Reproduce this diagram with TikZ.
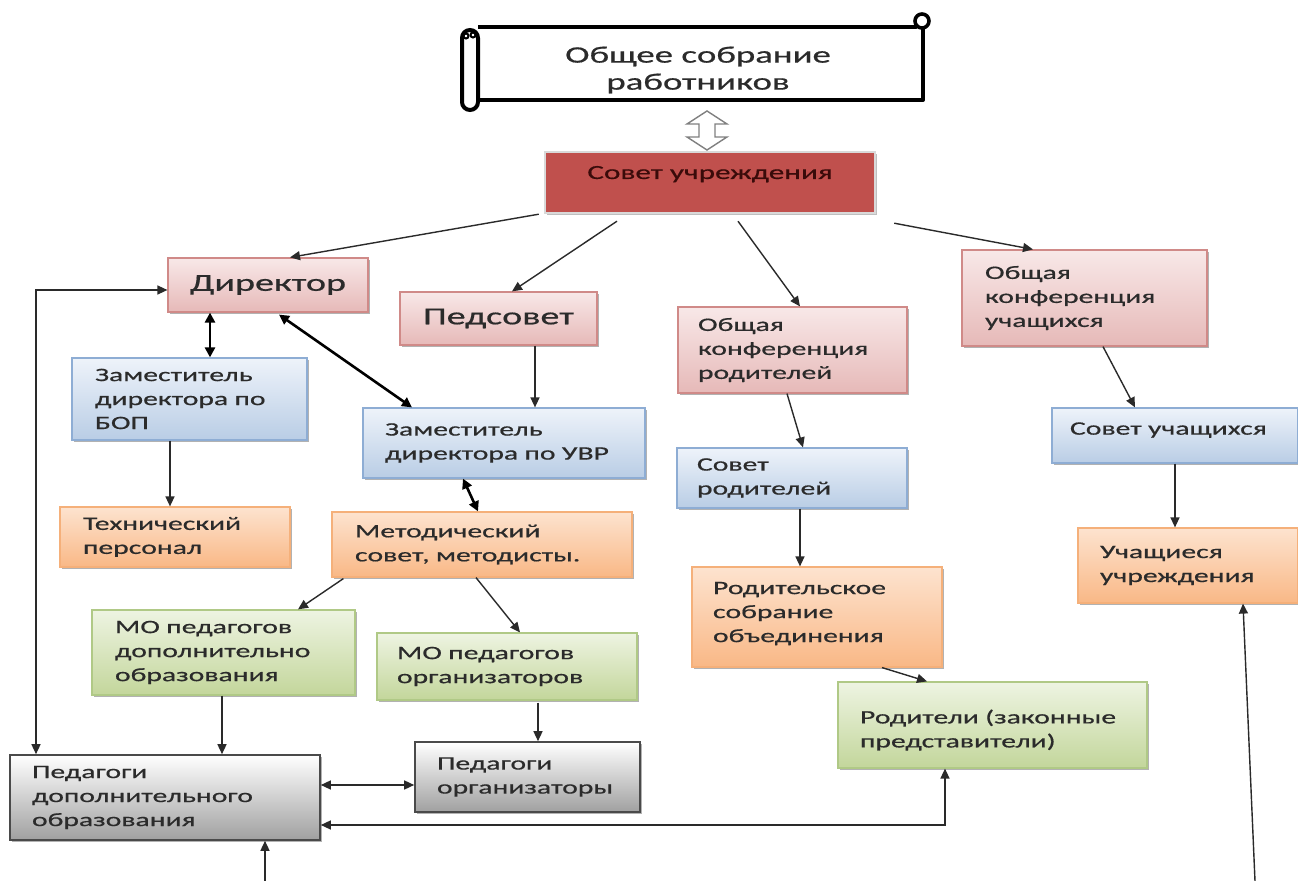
\documentclass[tikz,border=0pt]{standalone}
\usepackage{fontspec}
\setmainfont{Carlito}[FakeStretch=1.56,FakeBold=0.6]
\usetikzlibrary{arrows.meta,shadows,calc}
\definecolor{txt}{HTML}{2B2B2B}
\definecolor{lin}{HTML}{2A2A2A}
\definecolor{pinkt}{HTML}{F8E8E8}
\definecolor{pinkb}{HTML}{E6B9B8}
\definecolor{pinkd}{HTML}{D08A88}
\definecolor{bluet}{HTML}{EEF3FA}
\definecolor{blueb}{HTML}{B9CDE5}
\definecolor{blued}{HTML}{8EADD4}
\definecolor{oranget}{HTML}{FDE3CF}
\definecolor{orangeb}{HTML}{F9B886}
\definecolor{oranged}{HTML}{F5B07A}
\definecolor{greent}{HTML}{EEF4E2}
\definecolor{greenb}{HTML}{C3D69B}
\definecolor{greend}{HTML}{B0C986}
\definecolor{greyt}{HTML}{FFFFFF}
\definecolor{greyb}{HTML}{A0A0A0}
\definecolor{greyd}{HTML}{4A4A4A}
\definecolor{redfill}{HTML}{C0504D}
\definecolor{redtxt}{HTML}{3A0B0A}
\newcommand\boxfont{\fontsize{9.5}{12}\selectfont}
\newcommand\bigfont{\fontsize{12.2}{14.5}\selectfont}
\newcommand\scrollfont{\fontsize{11.8}{13.5}\selectfont}
\begin{document}
\begin{tikzpicture}[x=0.5pt,y=-0.5pt,
  box/.style={rectangle, line width=0.6pt, align=left, inner sep=0pt, font=\boxfont, text=txt,
    drop shadow={shadow xshift=1.2pt, shadow yshift=-1.2pt, opacity=0.3, fill=black}},
  pinkbox/.style={box, draw=pinkd, top color=pinkt, bottom color=pinkb},
  bluebox/.style={box, draw=blued, top color=bluet, bottom color=blueb},
  orangebox/.style={box, draw=oranged, top color=oranget, bottom color=orangeb},
  greenbox/.style={box, draw=greend, top color=greent, bottom color=greenb},
  greybox/.style={box, draw=greyd, line width=0.8pt, top color=greyt, bottom color=greyb},
  arr/.style={-{Triangle[length=5pt,width=4.5pt]}, line width=0.7pt, draw=lin},
  barr/.style={{Triangle[length=5pt,width=4.5pt]}-{Triangle[length=5pt,width=4.5pt]}, line width=0.7pt, draw=lin},
  darr/.style={{Triangle[length=5pt,width=5pt]}-{Triangle[length=5pt,width=5pt]}, line width=1.3pt, draw=black}
]
\useasboundingbox (0,0) rectangle (1298,881);
\fill[white] (0,0) rectangle (1298,881);

% scroll
\fill[white] (470,27) rectangle (923,100);
\draw[line width=2pt, line join=round] (478,100) -- (923,100) -- (923,24);
\draw[line width=2pt, line join=round] (478,27) -- (916,27) -- (916,20);
\draw[line width=1.8pt, fill=white] (922,21) circle (7);
\draw[line width=2pt, rounded corners=4pt, fill=white] (462,30) rectangle (478,110);
\draw[line width=1pt] (466,36) circle (2.5);
\draw[line width=1pt] (473,35) circle (2.5);
\node[font=\scrollfont, text=txt, align=center] (scroll) at (698,70) {Общее собрание\\работников};

% hollow double arrow
\draw[draw=gray, line width=0.7pt, fill=white] (707,111) -- (727,124) -- (715,124) -- (715,137) -- (727,137)
  -- (707,150) -- (687,137) -- (699,137) -- (699,124) -- (687,124) -- cycle;

% council
\node[rectangle, fill=redfill, draw=white!85!black, line width=1.2pt, font=\fontsize{10}{12}\selectfont, text=redtxt,
  minimum width=165pt, minimum height=30.5pt,
  drop shadow={shadow xshift=1pt, shadow yshift=-1pt, opacity=0.25, fill=black}] (sovet) at (710,182.5) {\raisebox{10pt}{Совет учреждения}};

% boxes
\node[pinkbox, font=\bigfont, align=center, minimum width=100pt, minimum height=27pt] (dir) at (268,285) {\raisebox{2pt}{Директор}};
\node[pinkbox, font=\bigfont, align=center, minimum width=98.5pt, minimum height=26.5pt] (ped) at (498.5,318.5) {Педсовет};
\node[pinkbox, minimum width=114.5pt, minimum height=43pt, text width=94.5pt] (okr) at (792.5,350) {Общая\\конференция\\родителей};
\node[pinkbox, minimum width=122.5pt, minimum height=48pt, text width=99.5pt] (oku) at (1084.5,298) {Общая\\конференция\\учащихся};
\node[bluebox, minimum width=117.5pt, minimum height=41pt, text width=94.5pt] (zbop) at (189.5,399) {Заместитель\\директора~по\\БОП};
\node[bluebox, minimum width=141pt, minimum height=35pt, text width=119pt] (zuvr) at (504,443) {Заместитель\\директора~по~УВР};
\node[bluebox, minimum width=115pt, minimum height=30pt, text width=95pt] (sovrod) at (792,478) {Совет\\родителей};
\node[bluebox, minimum width=123pt, minimum height=27.5pt, text width=105pt] (sovu) at (1175,435.5) {\raisebox{7pt}{Совет~учащихся}};
\node[orangebox, minimum width=115pt, minimum height=30pt, text width=92pt] (tech) at (175,537) {Технический\\персонал};
\node[orangebox, minimum width=150pt, minimum height=32.5pt, text width=127pt] (met) at (482,544.5) {Методический\\совет,~методисты.};
\node[orangebox, minimum width=110pt, minimum height=37.5pt, text width=88pt] (uch) at (1188,565.5) {Учащиеся\\учреждения};
\node[orangebox, minimum width=125pt, minimum height=50pt, text width=104pt] (rs) at (817,617) {Родительское\\собрание\\объединения\rule[-5pt]{0pt}{5pt}};
\node[greenbox, minimum width=131.5pt, minimum height=42.5pt, text width=108.5pt] (modop) at (223.5,652.5) {МО~педагогов\\дополнительно\\образования};
\node[greenbox, minimum width=130pt, minimum height=33.5pt, text width=110pt] (moorg) at (507,666.5) {МО~педагогов\\организаторов};
\node[greenbox, minimum width=154.5pt, minimum height=43pt, text width=132.5pt] (rod) at (992.5,725) {\rule{0pt}{12pt}Родители~(законные\\представители)};
\node[greybox, minimum width=155pt, minimum height=42.5pt, text width=133pt] (peddop) at (165,797.5) {Педагоги\\дополнительного\\образования};
\node[greybox, minimum width=112.5pt, minimum height=35pt, text width=90.5pt] (pedorg) at (527.5,777) {Педагоги\\организаторы};

\coordinate (b1) at (265,881);
\coordinate (b2) at (1255,881);

% connectors
\draw[arr] ([xshift=-2.5pt]sovet.south west) -- ([xshift=11pt]dir.north);
\draw[arr] ([xshift=-46.5pt,yshift=-3.5pt]sovet.south) -- ([xshift=6.75pt]ped.north);
\draw[arr] ([xshift=14pt,yshift=-3.5pt]sovet.south) -- ([xshift=3.75pt]okr.north);
\draw[arr] ([xshift=9pt,yshift=-4.5pt]sovet.south east) -- ([xshift=-25.75pt]oku.north);
\draw[darr] ([xshift=-29pt]dir.south) -- ([xshift=10.25pt]zbop.north);
\draw[darr] ([xshift=5.5pt,yshift=-1pt]dir.south) -- ([xshift=-46pt]zuvr.north);
\draw[arr] ([xshift=18.25pt]ped.south) -- ([xshift=15.5pt]zuvr.north);
\draw[arr] ([xshift=-9.75pt]zbop.south) -- ([xshift=-2.5pt]tech.north);
\draw[darr] ([xshift=-20.5pt]zuvr.south) -- ([xshift=-2pt]met.north);
\draw[arr] ([xshift=6pt,yshift=-0.5pt]met.south west) -- ([xshift=37.25pt]modop.north);
\draw[arr] ([xshift=-3pt]met.south) -- ([xshift=6.5pt]moorg.north);
\draw[arr] ([xshift=-0.75pt]modop.south) -- ([xshift=28.5pt]peddop.north);
\draw[arr] ([xshift=15.5pt,yshift=-1pt]moorg.south) -- ([xshift=5.25pt]pedorg.north);
\draw[barr] ([yshift=6.25pt]peddop.east) -- ([yshift=-4pt]pedorg.west);
\draw[barr] ([yshift=-13.75pt]peddop.east) -| ([xshift=-23.75pt]rod.south);
\draw[barr] ([yshift=-2.5pt]dir.west) -| ([xshift=-64.5pt]peddop.north);
\draw[arr] (b1) -- ([xshift=50pt]peddop.south);
\draw[arr] (b2) -- ([xshift=27.5pt]uch.south);
\draw[arr] ([xshift=-2.75pt]okr.south) -- ([xshift=5.5pt]sovrod.north);
\draw[arr] ([xshift=4pt]sovrod.south) -- ([xshift=-8.5pt]rs.north);
\draw[arr] ([xshift=32.5pt]rs.south) -- ([xshift=-32.75pt]rod.north);
\draw[arr] ([xshift=9.25pt]oku.south) -- ([xshift=-20pt]sovu.north);
\draw[arr] (sovu.south) -- ([xshift=-6.5pt]uch.north);
\end{tikzpicture}
\end{document}
